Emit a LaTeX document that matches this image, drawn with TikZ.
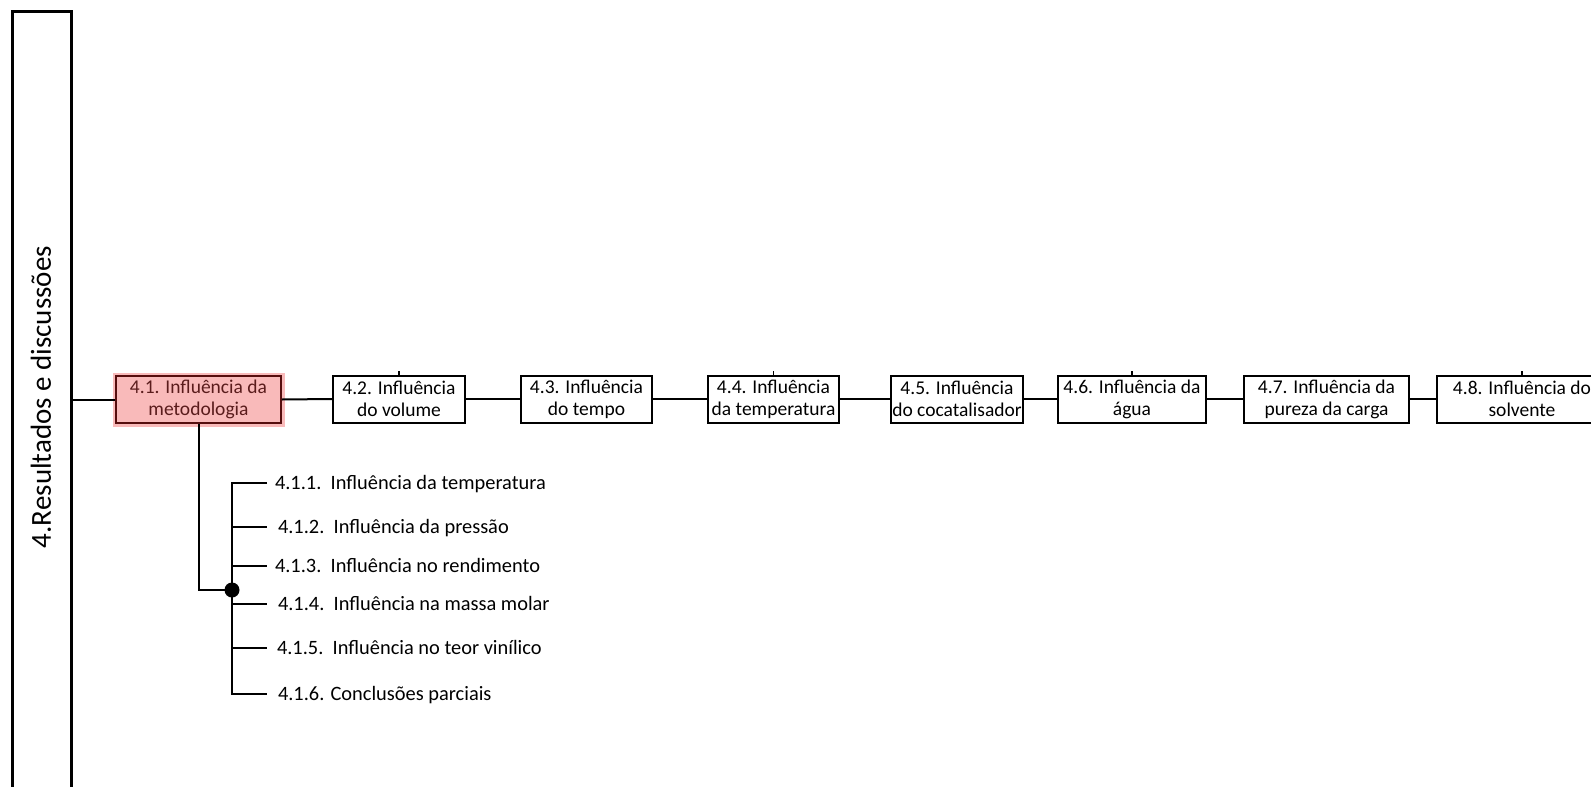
\documentclass[tikz,border=0pt]{standalone}
\usepackage{fontspec}
\setmainfont{Carlito}
\definecolor{pinkfill}{RGB}{249,186,186}
\definecolor{darkred}{RGB}{85,14,14}
\definecolor{redtext}{RGB}{90,28,28}
\begin{document}
\begin{tikzpicture}[x=1pt,y=-1pt,line width=2pt,
  box/.style={draw, line width=2pt, align=center, inner sep=0pt, minimum height=47,
    font=\fontsize{19.5}{22}\selectfont},
  hibox/.style={box, draw=darkred, fill=pinkfill, text=redtext,
    preaction={draw=pinkfill, line width=7pt}},
  item/.style={anchor=west, inner sep=0pt, text height=13pt, text depth=0pt,
    font=\fontsize{20.4}{24}\selectfont},
  tickmark/.style={line width=1.5pt}]
\useasboundingbox (0,0) rectangle (1591,787);
\begin{scope}
\clip (0,0) rectangle (1591,787);
\node[draw, line width=2.5pt, minimum width=59, minimum height=800, anchor=north west, inner sep=0pt] (main) at (11,10) {};
\node[rotate=90, inner sep=0pt, font=\fontsize{29}{34}\selectfont] (lbl) at (41,397) {4.Resultados e discussões};

\node[hibox, minimum width=165, minimum height=47] (b1) at (198.5,399.5) {4.1. Influência da\\metodologia};
\node[box, minimum width=132] (b2) at (399,399) {4.2. Influência\\do volume};
\node[box, minimum width=131] (b3) at (586.5,399) {4.3. Influência\\do tempo};
\node[box, minimum width=131] (b4) at (773.5,399) {4.4. Influência\\da temperatura};
\node[box, minimum width=132] (b5) at (957,399) {4.5. Influência\\do cocatalisador};
\node[box, minimum width=148] (b6) at (1132,399) {4.6. Influência da\\água};
\node[box, minimum width=165] (b7) at (1326.5,399) {4.7. Influência da\\pureza da carga};
\node[box, minimum width=170] (b8) at (1522,399) {4.8. Influência do\\solvente};

\draw (main.east |- b1) -- (b1.west);
\draw (b1.east) -- (b2.west);
\draw (b2.east) -- (b3.west);
\draw (b3.east) -- (b4.west);
\draw (b4.east) -- (b5.west);
\draw (b5.east) -- (b6.west);
\draw (b6.east) -- (b7.west);
\draw (b7.east) -- (b8.west);

\draw[tickmark] (b2.north) -- ++(0,-4);
\draw[tickmark] (b4.north) -- ++(0,-4);
\draw[tickmark] (b6.north) -- ++(0,-4);
\draw[tickmark] (b8.north) -- ++(0,-4);

\node[item] (t1) at (274,483) {4.1.1.\ \ Influência da temperatura};
\node[item] (t2) at (277,527) {4.1.2.\ \ Influência da pressão};
\node[item] (t3) at (274,566) {4.1.3.\ \ Influência no rendimento};
\node[item] (t4) at (277,604) {4.1.4.\ \ Influência na massa molar};
\node[item] (t5) at (276,648) {4.1.5.\ \ Influência no teor vinílico};
\node[item] (t6) at (277,694) {4.1.6. Conclusões parciais};

\coordinate (dotpos) at (232,590);
\draw (b1.south) |- (dotpos);
\draw ([xshift=-7]t1.west) -- (t1.west -| dotpos) -- (t6.west -| dotpos) -- ([xshift=-10]t6.west);
\draw (t2.west -| dotpos) -- ([xshift=-10]t2.west);
\draw (t3.west -| dotpos) -- ([xshift=-7]t3.west);
\draw (t4.west -| dotpos) -- ([xshift=-10]t4.west);
\draw (t5.west -| dotpos) -- ([xshift=-9]t5.west);
\node[circle, fill, inner sep=0pt, minimum size=15] (dot) at (dotpos) {};
\end{scope}
\end{tikzpicture}
\end{document}
